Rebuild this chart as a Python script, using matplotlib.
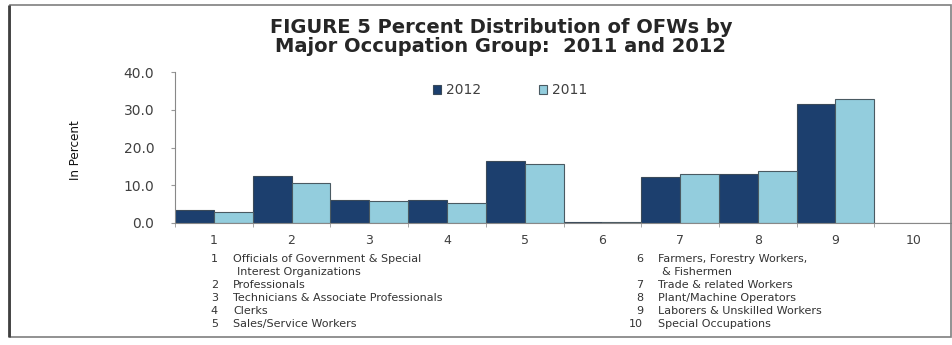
import numpy as np
import matplotlib
matplotlib.use('Agg')
import matplotlib.pyplot as plt
from matplotlib.patches import Rectangle

# ---------------------------------------------------------------------------
# Data
# ---------------------------------------------------------------------------
groups = ['1', '2', '3', '4', '5', '6', '7', '8', '9', '10']
pct_2012 = [3.4, 12.4, 6.0, 6.0, 16.3, 0.2, 12.2, 12.9, 31.6, 0.0]
pct_2011 = [2.8, 10.7, 5.8, 5.4, 15.7, 0.2, 12.9, 13.8, 32.8, 0.0]
yticks = [0, 10, 20, 30, 40]

key_left = [('1', 'Officials of Government & Special'),
            ('', 'Interest Organizations'),
            ('2', 'Professionals'),
            ('3', 'Technicians & Associate Professionals'),
            ('4', 'Clerks'),
            ('5', 'Sales/Service Workers')]
key_right = [('6', 'Farmers, Forestry Workers,'),
             ('', '& Fishermen'),
             ('7', 'Trade & related Workers'),
             ('8', 'Plant/Machine Operators'),
             ('9', 'Laborers & Unskilled Workers'),
             ('10', 'Special Occupations')]

C2012 = '#1c3f6e'
C2011 = '#93cddd'

W, H = 953, 345
fig = plt.figure(figsize=(W / 100, H / 100), dpi=100)

def fx(px):
    return px / W

def fy(py):
    return 1 - py / H

# outer frame
fig.patches.append(Rectangle((fx(10), fy(337)), fx(951) - fx(10), fy(5) - fy(337),
                             transform=fig.transFigure, fill=False,
                             edgecolor='#7f7f7f', lw=1.2))
fig.patches.append(Rectangle((fx(9), fy(337)), 0, fy(5) - fy(337),
                             transform=fig.transFigure, fill=False,
                             edgecolor='#404040', lw=2.0))

ax = fig.add_axes([fx(175), fy(223), fx(952) - fx(175), fy(72) - fy(223)])

x = np.arange(len(groups))
w = 0.5
ax.bar(x - w / 2, pct_2012, width=w, color=C2012, edgecolor='#3a4a5a',
       lw=0.8, label='2012')
ax.bar(x + w / 2, pct_2011, width=w, color=C2011, edgecolor='#4a5a62',
       lw=0.8, label='2011')

ax.set_xlim(-0.5, len(groups) - 0.5)
ax.set_ylim(0, 40)
ax.set_yticks(yticks)
ax.set_yticklabels([f'{v:.1f}' for v in yticks], fontsize=10, color='#404040')
ax.set_xticks(x)
ax.set_xticklabels(groups, fontsize=9, color='#404040')
ax.tick_params(axis='x', length=0, pad=8)
ax.set_xticks(np.arange(-0.5, len(groups)), minor=True)
ax.tick_params(axis='x', which='minor', length=3, color='#999999')
ax.tick_params(axis='y', length=3, color='#999999', pad=12)

for s in ['top', 'right']:
    ax.spines[s].set_visible(False)
ax.spines['left'].set_color('#888888')
ax.spines['bottom'].set_color('#888888')

fig.text(fx(76), fy(150), 'In Percent', rotation=90, ha='center', va='center',
         fontsize=9.5, family='DejaVu Sans', fontstretch='condensed',
         color='#111111')

fig.text(fx(501), fy(37), 'FIGURE 5 Percent Distribution of OFWs by\n'
         'Major Occupation Group:  2011 and 2012', ha='center', va='center',
         fontsize=14, fontweight='bold', family='DejaVu Sans',
         color='#262626', linespacing=0.95)

leg = ax.legend(loc='center', bbox_to_anchor=(fx(510), fy(90)),
                bbox_transform=fig.transFigure, ncol=2, frameon=False,
                fontsize=10, handlelength=0.6, handleheight=0.6,
                handletextpad=0.3, columnspacing=4.2)
for t in leg.get_texts():
    t.set_color('#404040')

# category key below the axis
rows_y = [259, 272, 285, 298, 311, 324]
kw = dict(va='center', fontsize=8, color='#333333')
for (num, txt), yy in zip(key_left, rows_y):
    if num:
        fig.text(fx(218), fy(yy), num, ha='right', **kw)
        fig.text(fx(233), fy(yy), txt, ha='left', **kw)
    else:
        fig.text(fx(237), fy(yy), txt, ha='left', **kw)
for (num, txt), yy in zip(key_right, rows_y):
    if num:
        fig.text(fx(643), fy(yy), num, ha='right', **kw)
        fig.text(fx(658), fy(yy), txt, ha='left', **kw)
    else:
        fig.text(fx(662), fy(yy), txt, ha='left', **kw)

fig.savefig('out.png', dpi=100)
